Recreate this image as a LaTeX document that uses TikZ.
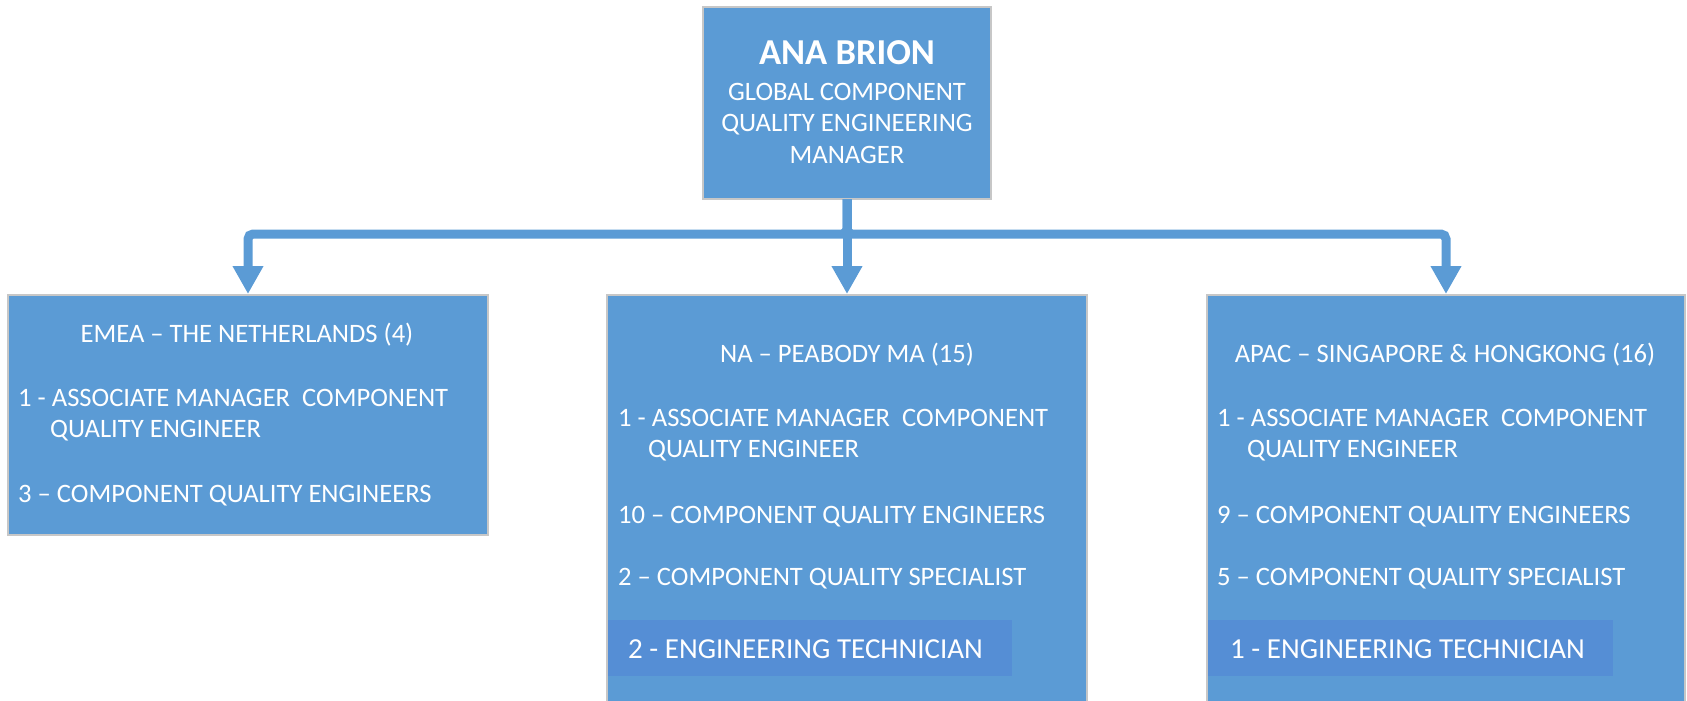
\documentclass[tikz,border=0pt]{standalone}
\usepackage{fontspec}
\setmainfont{Carlito}
\usetikzlibrary{arrows.meta}
\definecolor{boxblue}{RGB}{91,155,213}
\definecolor{techblue}{RGB}{85,142,213}
\begin{document}
\begin{tikzpicture}[x=1pt,y=-1pt,
  box/.style={draw=black!22, line width=1.2pt, fill=boxblue, inner sep=0pt, outer sep=0pt, anchor=north west},
  techbar/.style={fill=techblue, inner sep=0pt, outer sep=0pt, anchor=north west, minimum height=56pt},
  conn/.style={draw=boxblue, line width=9pt, -{Triangle[length=28pt,width=29pt]}, shorten >=1pt},
  txt/.style={text=white, font=\fontsize{26.6}{31}\selectfont, inner sep=0pt, anchor=base west},
  ctxt/.style={txt, anchor=base},
  techtxt/.style={txt, font=\fontsize{29}{34}\selectfont},
  nametxt/.style={ctxt, font=\fontsize{36.5}{42}\selectfont\bfseries}
]
\path[use as bounding box] (0,0) rectangle (1687,701);
\clip (0,0) rectangle (1687,701);

% boxes
\node[box, minimum width=288pt, minimum height=192pt] (top) at (703,7) {};
\node[box, minimum width=480pt, minimum height=240pt] (emea) at (8,295) {};
\node[box, minimum width=480pt, minimum height=430pt] (na) at (607,295) {};
\node[box, minimum width=478pt, minimum height=430pt] (apac) at (1207,295) {};
\node[techbar, minimum width=404pt] (natech) at (608,620) {};
\node[techbar, minimum width=405pt] (apactech) at (1208,620) {};

% connectors
\draw[conn] (top.south) -- (na.north);
\draw[conn, rounded corners=5pt] (top.south) -- ++(0,35) -| (emea.north);
\draw[conn, rounded corners=5pt] (top.south) -- ++(0,35) -| (apac.north);

% top box text
\node[nametxt] (tname) at (847,64) {ANA BRION};
\node[ctxt] (tl1) at (847,100) {GLOBAL COMPONENT};
\node[ctxt] (tl2) at (847,131) {QUALITY ENGINEERING};
\node[ctxt] (tl3) at (847,163) {MANAGER};

% EMEA
\node[ctxt] (et) at (247,342) {EMEA -- THE NETHERLANDS (4)};
\node[txt] (e1) at (18,406) {1 - ASSOCIATE MANAGER\ \ COMPONENT};
\node[txt] (e2) at (50,437) {QUALITY ENGINEER};
\node[txt] (e3) at (18,502) {3 -- COMPONENT QUALITY ENGINEERS};

% NA
\node[ctxt] (nt) at (847,362) {NA -- PEABODY MA (15)};
\node[txt] (n1) at (618,426) {1 - ASSOCIATE MANAGER\ \ COMPONENT};
\node[txt] (n2) at (648,457) {QUALITY ENGINEER};
\node[txt] (n3) at (618,523) {10 -- COMPONENT QUALITY ENGINEERS};
\node[txt] (n4) at (618,585) {2 -- COMPONENT QUALITY SPECIALIST};
\node[techtxt] (n5) at (628,658) {2 - ENGINEERING TECHNICIAN};

% APAC
\node[ctxt] (at) at (1445,362) {APAC -- SINGAPORE \& HONGKONG (16)};
\node[txt] (a1) at (1217,426) {1 - ASSOCIATE MANAGER\ \ COMPONENT};
\node[txt] (a2) at (1247,457) {QUALITY ENGINEER};
\node[txt] (a3) at (1217,523) {9 -- COMPONENT QUALITY ENGINEERS};
\node[txt] (a4) at (1217,585) {5 -- COMPONENT QUALITY SPECIALIST};
\node[techtxt] (a5) at (1230,658) {1 - ENGINEERING TECHNICIAN};
\end{tikzpicture}
\end{document}
